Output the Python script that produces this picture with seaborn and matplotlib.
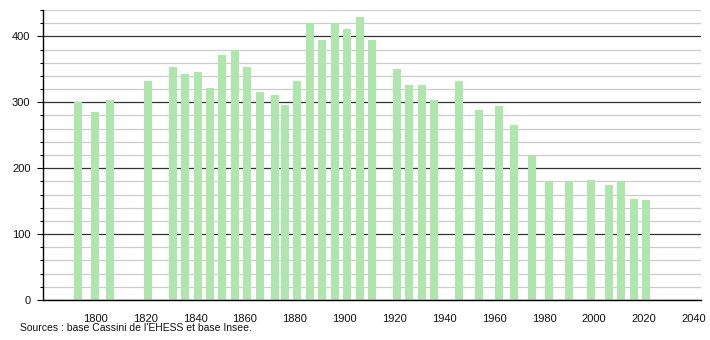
import matplotlib
matplotlib.use("Agg")
import matplotlib.pyplot as plt
import seaborn as sns
import pandas as pd
import numpy as np

years = [1793, 1800, 1806, 1821, 1831, 1836, 1841, 1846, 1851, 1856, 1861, 1866,
         1872, 1876, 1881, 1886, 1891, 1896, 1901, 1906, 1911, 1921, 1926, 1931,
         1936, 1946, 1954, 1962, 1968, 1975, 1982, 1990, 1999, 2006, 2011, 2016, 2021]
population = [300, 285, 303, 332, 354, 343, 346, 321, 372, 380, 353, 315,
              311, 296, 332, 420, 394, 421, 411, 429, 394, 350, 326, 326,
              303, 332, 288, 294, 265, 218, 180, 179, 182, 174, 180, 154, 151]
x_ticks = [1800, 1820, 1840, 1860, 1880, 1900, 1920, 1940, 1960, 1980, 2000, 2020, 2040]
y_ticks = [0, 100, 200, 300, 400]
source_text = "Sources : base Cassini de l'EHESS et base Insee."

sns.set_theme(style="white")
plt.rcParams['font.family'] = ['Liberation Sans', 'DejaVu Sans']

df = pd.DataFrame({"year": years, "pop": population})

fig = plt.figure(figsize=(7.1, 3.4), dpi=100)
ax = fig.add_axes([43/710, 1 - 300/340, (701 - 43)/710, (300 - 10)/340])

sns.barplot(data=df, x="year", y="pop", native_scale=True, color="#aee6ae",
            saturation=1, width=0.8, ax=ax, errorbar=None, linewidth=0)

ax.set_xlim(1779, 2043)
ax.set_ylim(0, 440)
ax.set_xticks(x_ticks)
ax.set_xticklabels([str(t) for t in x_ticks])
ax.set_yticks(y_ticks)
ax.set_yticks(np.arange(20, 441, 20), minor=True)

ax.set_axisbelow(True)
ax.grid(True, which="major", axis="y", color="#333333", linewidth=0.9)
ax.grid(True, which="minor", axis="y", color="#cccccc", linewidth=0.9)
ax.grid(False, axis="x")

for s in ["top", "right"]:
    ax.spines[s].set_visible(False)
for s in ["left", "bottom"]:
    ax.spines[s].set_color("black")
    ax.spines[s].set_linewidth(1.0)

ax.tick_params(axis="y", which="major", left=True, length=4, width=0.8, color="black",
               labelsize=8, pad=5, labelcolor="#111111")
ax.tick_params(axis="y", which="minor", left=True, length=2, width=0.8, color="black")
ax.tick_params(axis="x", which="both", bottom=False, labelsize=8, pad=4, labelcolor="#111111")
ax.set_xlabel("")
ax.set_ylabel("")

fig.text(20/710, 1 - 328/340, source_text, fontsize=7.5, color="#111111",
         ha="left", va="center")

fig.savefig("out.png", dpi=100, facecolor="white")
